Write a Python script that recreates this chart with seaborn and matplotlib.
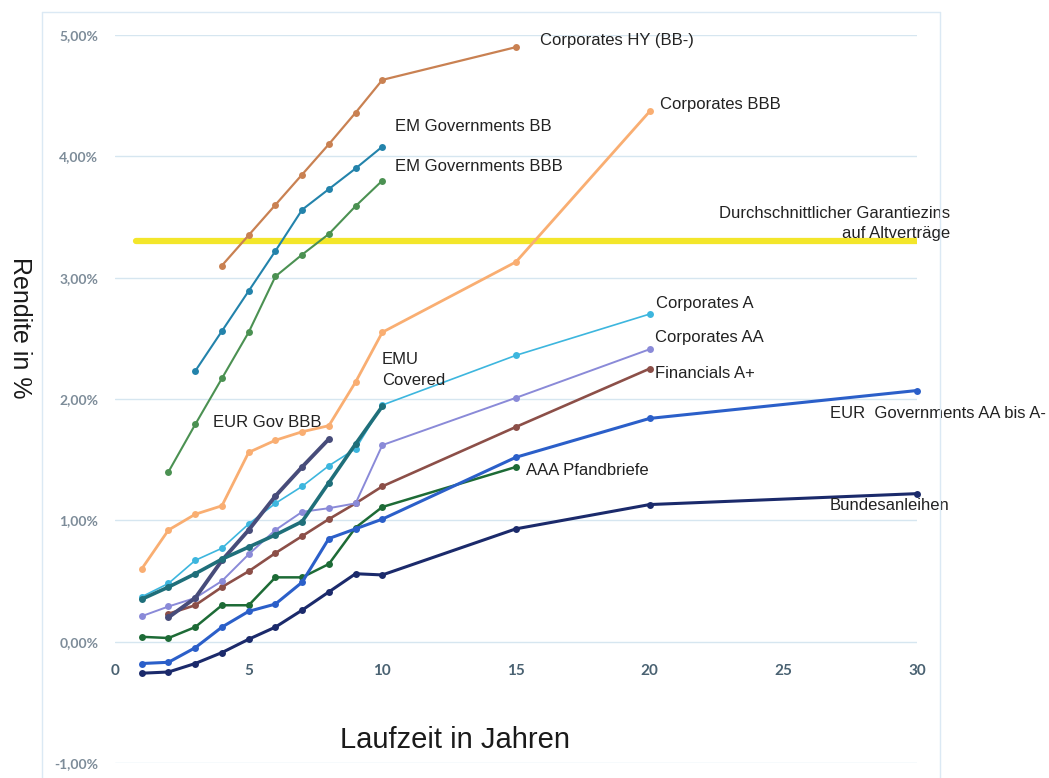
import matplotlib
matplotlib.use("Agg")
import matplotlib.pyplot as plt
import matplotlib.ticker as mticker
from matplotlib.lines import Line2D
import seaborn as sns
import pandas as pd

# ---------------- data ----------------
mat_hy = [4, 5, 6, 7, 8, 9, 10, 15]
corp_hy = [3.10, 3.35, 3.60, 3.85, 4.10, 4.36, 4.63, 4.90]

mat_em = [3, 4, 5, 6, 7, 8, 9, 10]
em_bb = [2.23, 2.56, 2.89, 3.22, 3.56, 3.73, 3.90, 4.08]

mat_em_bbb = [2, 3, 4, 5, 6, 7, 8, 9, 10]
em_bbb = [1.40, 1.79, 2.17, 2.55, 3.01, 3.19, 3.36, 3.59, 3.80]

mat_corp = [1, 2, 3, 4, 5, 6, 7, 8, 9, 10, 15, 20]
corp_bbb = [0.60, 0.92, 1.05, 1.12, 1.56, 1.66, 1.73, 1.78, 2.14, 2.55, 3.13, 4.37]
corp_a = [0.37, 0.48, 0.67, 0.77, 0.97, 1.14, 1.28, 1.45, 1.59, 1.95, 2.36, 2.70]
corp_aa = [0.21, 0.29, 0.36, 0.50, 0.72, 0.92, 1.07, 1.10, 1.14, 1.62, 2.01, 2.41]

mat_fin = [2, 3, 4, 5, 6, 7, 8, 9, 10, 15, 20]
fin_a = [0.23, 0.30, 0.45, 0.58, 0.73, 0.87, 1.01, 1.14, 1.28, 1.77, 2.25]

mat_emu = [1, 2, 3, 4, 5, 6, 7, 8, 9, 10]
emu_cov = [0.35, 0.45, 0.56, 0.68, 0.78, 0.88, 0.99, 1.31, 1.63, 1.94]

mat_gov_bbb = [2, 3, 4, 5, 6, 7, 8]
eur_gov_bbb = [0.20, 0.36, 0.67, 0.92, 1.20, 1.44, 1.67]

mat_pfand = [1, 2, 3, 4, 5, 6, 7, 8, 9, 10, 15]
aaa_pfand = [0.04, 0.03, 0.12, 0.30, 0.30, 0.53, 0.53, 0.64, 0.94, 1.11, 1.44]

mat_gov = [1, 2, 3, 4, 5, 6, 7, 8, 9, 10, 15, 20, 30]
eur_gov_aa = [-0.18, -0.17, -0.05, 0.12, 0.25, 0.31, 0.49, 0.85, 0.93, 1.01, 1.52, 1.84, 2.07]
bund = [-0.26, -0.25, -0.18, -0.09, 0.02, 0.12, 0.26, 0.41, 0.56, 0.55, 0.93, 1.13, 1.22]

guar_x = [0.8, 30]
guar_y = [3.30, 3.30]

x_ticks = [0, 5, 10, 15, 20, 25, 30]
y_ticks = [-1, 0, 1, 2, 3, 4, 5]

# ---------------- styling ----------------
sns.set_style("white")
plt.rcParams["font.family"] = ["Liberation Sans", "DejaVu Sans"]

fig = plt.figure(figsize=(10.49, 7.78), dpi=100)
ax = fig.add_axes([115 / 1049, 1 - 763 / 778, (917 - 115) / 1049, (763 - 35) / 778])

series = [
    (mat_hy, corp_hy, "#c98152", 1.6),
    (mat_em, em_bb, "#2383ab", 1.5),
    (mat_em_bbb, em_bbb, "#4b9152", 1.5),
    (mat_corp, corp_bbb, "#f9ae72", 2.0),
    (mat_fin, fin_a, "#8c4f48", 1.9),
    (mat_corp, corp_aa, "#8a8ad8", 1.4),
    (mat_corp, corp_a, "#3db6de", 1.2),
    (mat_pfand, aaa_pfand, "#1d6b36", 1.8),
    (mat_gov, eur_gov_aa, "#2b5fc9", 2.2),
    (mat_gov, bund, "#1b2a6b", 2.2),
    (mat_gov_bbb, eur_gov_bbb, "#474c7a", 2.8),
    (mat_emu, emu_cov, "#1f6f7a", 2.6),
]

for xs, ys, col, lw in series:
    df = pd.DataFrame({"x": xs, "y": ys})
    sns.lineplot(data=df, x="x", y="y", ax=ax, color=col, linewidth=lw,
                 marker="o", markersize=5, markeredgewidth=0, legend=False,
                 clip_on=False)

gdf = pd.DataFrame({"x": guar_x, "y": guar_y})
sns.lineplot(data=gdf, x="x", y="y", ax=ax, color="#f3e62a", linewidth=4.5,
             legend=False, zorder=1)

ax.set_xlim(0, 30)
ax.set_ylim(-1, 5)
ax.set_xticks(x_ticks)
ax.set_yticks(y_ticks)
ax.yaxis.set_major_formatter(mticker.FuncFormatter(
    lambda v, p: f"{v:.2f}".replace(".", ",") + "%"))
ax.grid(axis="y", color="#d6e6f0", linewidth=1.0)
ax.grid(axis="x", visible=False)
for s in ax.spines.values():
    s.set_color("none")
ax.spines["bottom"].set_position(("data", 0))
ax.tick_params(axis="x", length=0, pad=16, labelsize=11, labelcolor="#4a6272")
ax.tick_params(axis="y", length=0, pad=12, labelsize=10, labelcolor="#7d8c99")
for lab in ax.get_xticklabels() + ax.get_yticklabels():
    lab.set_fontfamily(["Lato", "DejaVu Sans"])
    lab.set_fontweight("bold")
ax.set_xlabel("")
ax.set_ylabel("")

fig.text(455 / 1049, 1 - 740 / 778, "Laufzeit in Jahren", ha="center", va="center",
         fontsize=21, color="#1a1a1a")
fig.text(20 / 1049, 1 - 328 / 778, "Rendite in %", ha="center", va="center",
         rotation=-90, fontsize=18, color="#1a1a1a")

tc = "#222222"
fs = 12
labels = [
    (15.9, 4.955, "Corporates HY (BB-)", "left"),
    (10.47, 4.245, "EM Governments BB", "left"),
    (10.47, 3.916, "EM Governments BBB", "left"),
    (20.39, 4.427, "Corporates BBB", "left"),
    (20.24, 2.787, "Corporates A", "left"),
    (20.2, 2.506, "Corporates AA", "left"),
    (20.2, 2.21, "Financials A+", "left"),
    (26.75, 1.88, "EUR  Governments AA bis A-", "left"),
    (26.75, 1.12, "Bundesanleihen", "left"),
    (15.38, 1.41, "AAA Pfandbriefe", "left"),
    (9.99, 2.24, "EMU\nCovered", "left"),
    (3.67, 1.805, "EUR Gov BBB", "left"),
    (31.24, 3.445, "Durchschnittlicher Garantiezins\nauf Altverträge", "right"),
]
for x, y, t, ha in labels:
    ax.text(x, y, t, ha=ha, va="center", fontsize=fs, color=tc,
            multialignment=ha, linespacing=1.45, clip_on=False)

# light frame of the chart area
fc = "#dbe9f4"
fig.add_artist(Line2D([42 / 1049, 42 / 1049], [0, 1 - 12 / 778], transform=fig.transFigure, color=fc, lw=1))
fig.add_artist(Line2D([42 / 1049, 940 / 1049], [1 - 12 / 778, 1 - 12 / 778], transform=fig.transFigure, color=fc, lw=1))
fig.add_artist(Line2D([940 / 1049, 940 / 1049], [0, 1 - 12 / 778], transform=fig.transFigure, color=fc, lw=1))

fig.savefig("out.png", dpi=100)
